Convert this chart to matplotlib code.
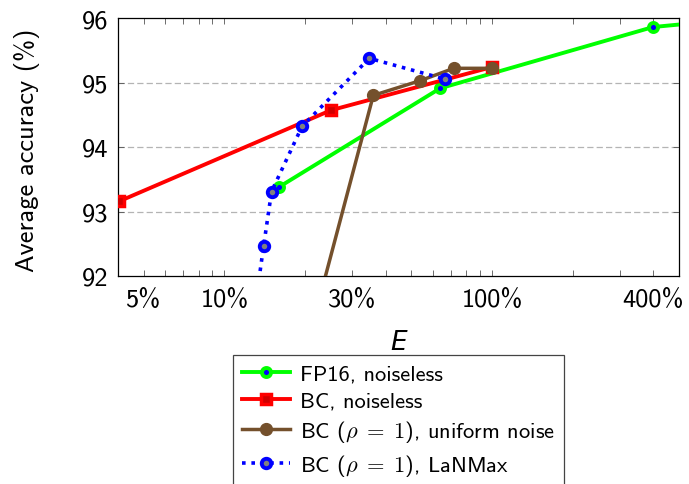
import matplotlib
matplotlib.use("Agg")
import matplotlib.pyplot as plt
from matplotlib.ticker import FixedLocator, NullFormatter, FixedFormatter

plt.rcParams['font.family'] = ['cmss10', 'DejaVu Sans']
plt.rcParams['mathtext.fontset'] = 'cm'
plt.rcParams['axes.unicode_minus'] = False

# Data (E in %)
fp16_x = [16, 64, 400, 800]
fp16_y = [93.38, 94.91, 95.86, 95.98]

bc_x = [4.05, 25, 100]
bc_y = [93.16, 94.57, 95.24]

uni_x = [20, 36, 54, 72, 100]
uni_y = [90.8, 94.80, 95.03, 95.22, 95.22]

lan_x = [13, 14, 15, 19.5, 34.8, 67]
lan_y = [91.5, 92.46, 93.31, 94.32, 95.375, 95.05]

xticks = [5, 10, 30, 100, 400]
xticklabels = ['5%', '10%', '30%', '100%', '400%']
yticks = [92, 93, 94, 95, 96]

W, H = 689, 485
fig = plt.figure(figsize=(W / 100, H / 100), dpi=100)
L, R, T, B = 118, 679, 19, 277
ax = fig.add_axes([L / W, 1 - B / H, (R - L) / W, (B - T) / H])

ax.set_xscale('log')
ax.set_xlim(4, 500)
ax.set_ylim(92, 96)

for y in [93, 94, 95]:
    ax.axhline(y, color='#b4b4b4', lw=0.9, dashes=(5, 2.5), zorder=0)

ax.plot(fp16_x, fp16_y, color='#00ff00', lw=2.8, marker='o', ms=6.5,
        mew=2.8, mfc='#0000ff', mec='#00ff00', label='FP16, noiseless', zorder=3)
ax.plot(bc_x, bc_y, color='#ff0000', lw=2.8, marker='s', ms=7.5,
        mew=2.5, mfc='#d00000', mec='#ff0000', label='BC, noiseless', zorder=3)
ax.plot(uni_x, uni_y, color='#74502c', lw=2.5, marker='o', ms=8.5,
        mew=1, mfc='#74502c', mec='#74502c',
        label=r'BC ($\rho\;=\;1$), uniform noise', zorder=4)
ax.plot(lan_x, lan_y, color='#0000ff', lw=2.6, dashes=(1.0, 1.6),
        marker='o', ms=6.8, mew=2.8, mfc='#808080', mec='#0000ff',
        label=r'BC ($\rho\;=\;1$), LaNMax', zorder=5)

minor = [m * d for d in [1, 10, 100] for m in range(2, 10)]
minor = [v for v in minor if v not in xticks and 4 <= v <= 500]
ax.xaxis.set_major_locator(FixedLocator(xticks))
ax.xaxis.set_major_formatter(FixedFormatter(xticklabels))
ax.xaxis.set_minor_locator(FixedLocator(minor))
ax.xaxis.set_minor_formatter(NullFormatter())
ax.set_yticks(yticks)
ax.set_yticklabels([str(v) for v in yticks])

ax.tick_params(axis='both', which='both', direction='in', top=True, right=True,
               width=0.6, color='#555555')
ax.tick_params(axis='both', which='major', length=4.5, labelsize=19)
ax.tick_params(axis='x', which='minor', length=4.5)
ax.tick_params(axis='x', which='major', pad=9)
ax.tick_params(axis='y', which='major', pad=7)

for s in ax.spines.values():
    s.set_linewidth(0.9)
    s.set_color('black')

ax.set_ylabel('Average accuracy (%)', fontsize=19)
ax.yaxis.set_label_coords(-0.139, 0.49)
ax.set_xlabel('E', fontsize=19, family='DejaVu Sans', style='italic')
ax.xaxis.set_label_coords(0.5, -0.205)

leg = fig.legend(loc='upper center', bbox_to_anchor=((L + R) / 2 / W, 1 - 356 / H),
                 bbox_transform=fig.transFigure, fontsize=16.2, frameon=True,
                 fancybox=False, edgecolor='#444444', framealpha=1,
                 handlelength=2.15, handletextpad=0.45, borderpad=0.4,
                 labelspacing=0.33, borderaxespad=0)
leg.get_frame().set_linewidth(0.9)

fig.savefig('out.png', dpi=100)
